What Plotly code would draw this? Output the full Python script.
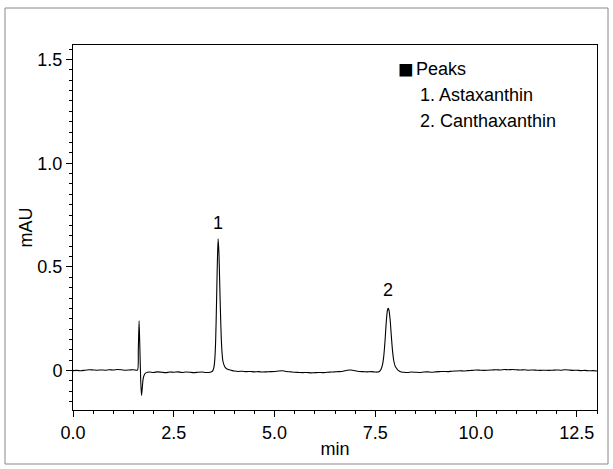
import plotly.graph_objects as go

# ---- data ----
time_min = [
    0.0, 0.1, 0.2, 0.3, 0.4, 0.5, 0.6, 0.7, 0.8, 0.9, 1.0, 1.1, 1.2, 1.3, 1.4, 1.5, 1.6,
    1.62, 1.64, 1.66, 1.68, 1.70, 1.72, 1.74, 1.77, 1.80, 1.85,
    1.9, 2.0, 2.1, 2.2, 2.3, 2.4, 2.5, 2.6, 2.7, 2.8, 2.9, 3.0, 3.1, 3.2, 3.3, 3.4,
    3.44, 3.47, 3.50, 3.52, 3.54, 3.56, 3.58, 3.60, 3.62, 3.64, 3.66, 3.68, 3.70, 3.72,
    3.75, 3.78, 3.82, 3.88, 3.95,
    4.0, 4.1, 4.2, 4.3, 4.4, 4.5, 4.6, 4.7, 4.8, 4.9, 5.0, 5.1, 5.2, 5.3, 5.4, 5.5,
    5.6, 5.7, 5.8, 5.9, 6.0, 6.1, 6.2, 6.3, 6.4, 6.5, 6.6, 6.7, 6.8, 6.9, 7.0, 7.1,
    7.2, 7.3, 7.4, 7.5,
    7.55, 7.60, 7.64, 7.68, 7.71, 7.74, 7.77, 7.80, 7.82, 7.84, 7.87, 7.90, 7.93, 7.96,
    8.00, 8.05, 8.10, 8.15,
    8.2, 8.3, 8.4, 8.5, 8.6, 8.7, 8.8, 8.9, 9.0, 9.1, 9.2, 9.3, 9.4, 9.5, 9.6, 9.7,
    9.8, 9.9, 10.0, 10.1, 10.2, 10.3, 10.4, 10.5, 10.6, 10.7, 10.8, 10.9, 11.0, 11.1,
    11.2, 11.3, 11.4, 11.5, 11.6, 11.7, 11.8, 11.9, 12.0, 12.1, 12.2, 12.3, 12.4, 12.5,
    12.6, 12.7, 12.8, 12.9, 13.0,
]
signal_mau = [
    0.000, 0.001, -0.001, 0.002, 0.004, 0.003, 0.002, 0.003, 0.002, 0.004, 0.003, 0.005, 0.004, 0.002, 0.003, 0.004, 0.002,
    0.100, 0.240, 0.100, -0.050, -0.120, -0.080, -0.040, -0.020, -0.012, -0.008,
    -0.007, -0.009, -0.006, -0.008, -0.010, -0.007, -0.008, -0.006, -0.009, -0.007, -0.008, -0.010, -0.008, -0.007, -0.009, -0.008,
    -0.006, 0.000, 0.020, 0.060, 0.150, 0.320, 0.510, 0.635, 0.570, 0.420, 0.270, 0.150, 0.080, 0.045,
    0.025, 0.014, 0.008, 0.004, 0.000,
    -0.002, -0.004, -0.003, -0.005, -0.004, -0.006, -0.005, -0.007, -0.006, -0.005, -0.004, -0.002, -0.001, -0.004, -0.006, -0.008,
    -0.009, -0.010, -0.009, -0.011, -0.010, -0.009, -0.010, -0.008, -0.007, -0.006, -0.005, -0.003, 0.002, 0.003, -0.001, -0.004,
    -0.005, -0.006, -0.005, -0.007,
    -0.007, -0.004, 0.005, 0.030, 0.070, 0.140, 0.230, 0.290, 0.300, 0.290, 0.240, 0.160, 0.090, 0.045,
    0.018, 0.005, -0.003, -0.007,
    -0.008, -0.009, -0.007, -0.008, -0.009, -0.007, -0.006, -0.008, -0.006, -0.005, -0.004, -0.005, -0.003, -0.002, -0.001, -0.002,
    0.000, 0.001, 0.003, 0.002, 0.001, 0.002, 0.003, 0.004, 0.003, 0.005, 0.004, 0.005, 0.004, 0.003,
    0.004, 0.002, 0.003, 0.002, 0.001, 0.002, 0.001, 0.002, 0.003, 0.002, 0.004, 0.003, 0.001, 0.002,
    0.000, 0.001, -0.001, 0.000, -0.002,
]

x_tick_vals = [0.0, 2.5, 5.0, 7.5, 10.0, 12.5]
x_tick_text = ["0.0", "2.5", "5.0", "7.5", "10.0", "12.5"]
y_tick_vals = [0.0, 0.5, 1.0, 1.5]
y_tick_text = ["0", "0.5", "1.0", "1.5"]

peak_labels = ["1", "2"]
peak_label_x = [3.60, 7.82]
peak_label_y = [0.71, 0.39]

legend_title = "Peaks"
legend_items = ["1. Astaxanthin", "2. Canthaxanthin"]

FONT = "Liberation Sans, Arial, sans-serif"
FS = 18

fig = go.Figure()
fig.add_trace(go.Scatter(
    x=time_min, y=signal_mau, mode="lines",
    line=dict(color="black", width=1.1, shape="spline", smoothing=0.6),
    showlegend=False, hoverinfo="skip",
))

for t, px, py in zip(peak_labels, peak_label_x, peak_label_y):
    fig.add_annotation(x=px, y=py, text=t, showarrow=False,
                       font=dict(size=FS, color="black", family=FONT),
                       xanchor="center", yanchor="middle")

fig.add_annotation(x=8.02, y=1.452, text="■", showarrow=False,
                   font=dict(size=26, color="black", family=FONT),
                   xanchor="left", yanchor="middle")
fig.add_annotation(x=8.45, y=1.454, text=legend_title, showarrow=False,
                   font=dict(size=FS, color="black", family=FONT),
                   xanchor="left", yanchor="middle")
for i, item in enumerate(legend_items):
    fig.add_annotation(x=8.57, y=1.328 - i * 0.125, text=item, showarrow=False,
                       font=dict(size=FS, color="black", family=FONT),
                       xanchor="left", yanchor="middle")

# outer border of the figure
L, R, T, B = 73, 16, 45, 59
W, H = 613, 469
pw, ph = W - L - R, H - T - B
fig.add_shape(type="rect", xref="paper", yref="paper",
              x0=(5 - L) / pw, x1=(608 - L) / pw,
              y0=(H - B - 464) / ph, y1=(H - B - 8) / ph,
              line=dict(color="#888888", width=1), layer="below")

fig.update_layout(
    width=W, height=H,
    margin=dict(l=L, r=R, t=T, b=B),
    paper_bgcolor="white", plot_bgcolor="white",
    font=dict(family=FONT, size=FS, color="black"),
    xaxis=dict(
        range=[0, 13.0], tickvals=x_tick_vals, ticktext=x_tick_text,
        ticks="outside", ticklen=6, tickwidth=1, tickcolor="black",
        showline=True, linecolor="black", linewidth=1, mirror=True,
        showgrid=False, zeroline=False,
        minor=dict(dtick=0.5, ticks="outside", ticklen=3, tickcolor="black", showgrid=False),
        title=dict(text="min", standoff=0, font=dict(size=FS)),
        tickfont=dict(size=FS),
    ),
    yaxis=dict(
        range=[-0.19, 1.57], tickvals=y_tick_vals, ticktext=y_tick_text,
        ticks="outside", ticklen=6, tickwidth=1, tickcolor="black",
        showline=True, linecolor="black", linewidth=1, mirror=True,
        showgrid=False, zeroline=False,
        minor=dict(dtick=0.05, ticks="outside", ticklen=3, tickcolor="black", showgrid=False),
        title=dict(text="mAU", standoff=0, font=dict(size=FS)),
        tickfont=dict(size=FS),
    ),
)

fig.write_html("out.html", config={"displayModeBar": False},
               post_script="document.body.style.margin='0';")
